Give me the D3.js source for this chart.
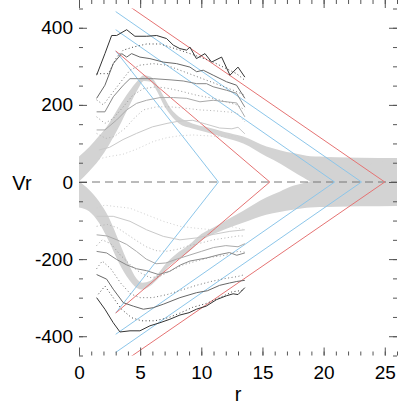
<!DOCTYPE html>
<html>
<head>
<meta charset="utf-8">
<script src="https://cdn.jsdelivr.net/npm/d3@7"></script>
<style>
  body { margin: 0; background: #fff; }
  text { font-family: "Liberation Sans", Arial, sans-serif; fill: #000; }
</style>
</head>
<body>
<div id="chart"></div>
<script>
var width = 407;
var height = 407;

// gray model bands (r, lower edge, upper edge)
var bandUpR  = [0, 0.82, 1.63, 2.45, 3.27, 4.08, 4.77, 5.31, 5.86, 6.4, 6.94, 7.49, 8.17, 9.26, 10.35, 11.9, 13.43, 15.33, 16.5, 17.5, 18.3, 18.9, 19.7, 21, 23, 26];
var bandUpHi = [66, 90, 119, 152, 195, 234, 262, 277, 273, 251, 221, 191, 169, 152, 143, 130, 118, 92, 82, 75, 70, 67, 66, 64, 63, 62];
var bandUpLo = [1, 27, 57, 96, 143, 195, 238, 262, 260, 234, 199, 174, 152, 139, 130, 115, 100, 66, 47, 27, 12, 1, -10, -25, -40, -62];

var bandLoR  = [0, 0.82, 1.63, 2.45, 3.27, 4.08, 4.7, 5.2, 5.8, 6.4, 7.1, 7.9, 9.0, 10.0, 11.0, 12.0, 13.4, 15.3, 16.4, 17.5, 18.3, 18.9, 19.7, 21, 23, 26];
var bandLoHi = [1, -20, -50, -93, -154, -214, -250, -261, -257, -240, -212, -188, -163, -135, -118, -100, -75, -40, -25, -10, -3, 1, 10, 25, 40, 62];
var bandLoLo = [-66, -76, -106, -154, -210, -253, -274, -279, -270, -253, -227, -205, -180, -152, -135, -122, -106, -85, -78, -72, -68, -66, -65, -64, -63, -62];

// chevron lines: start radius, peak |Vr| at the start, radius of the tip
var chevStart = 3;
var chevPeaks = [340, 340, 395, 442, 480];
var chevTips  = [11.4, 15.6, 20.9, 23.1, 25.0];
var chevKinds = ["blue", "red", "blue", "blue", "red"];

// measured profiles, upper half (solid s*, dotted d*)
var us1R = [1.44, 2.12, 2.67, 3.08, 3.9, 4.57, 5.53, 6.35, 7.16, 7.71, 8.25, 8.8, 9.07, 9.6, 10.3, 10.84, 11.66, 12.34, 13.0, 13.56];
var us1V = [277, 333, 380, 380, 395, 378, 378, 380, 372, 355, 346, 342, 350, 320, 333, 311, 324, 277, 298, 272];
var ud1R = [1.44, 2.4, 3.08, 3.62, 4.44, 5.53, 6.62, 7.44, 8.25, 9.07, 9.89, 10.97, 12.06, 12.88, 13.56];
var ud1V = [281, 281, 324, 342, 350, 358, 358, 350, 342, 333, 324, 311, 294, 281, 264];
var us2R = [1.44, 2.12, 2.8, 3.49, 3.9, 4.3, 4.98, 5.8, 6.89, 7.98, 9.07, 9.62, 10.16, 10.97, 12.06, 12.88, 13.56];
var us2V = [217, 251, 307, 333, 324, 333, 324, 320, 311, 307, 298, 286, 290, 277, 260, 251, 217];
var ud2R = [1.44, 1.99, 2.8, 3.62, 4.17, 4.98, 6.07, 7.16, 8.25, 9.34, 10.43, 11.52, 12.61, 13.56];
var ud2V = [213, 200, 234, 268, 290, 303, 307, 303, 290, 277, 264, 251, 238, 225];
var us3R = [1.44, 2.12, 2.8, 3.62, 4.17, 4.84, 6.07, 7.44, 8.52, 9.62, 10.43, 10.97, 12.06, 12.88, 13.56];
var us3V = [182, 182, 221, 251, 268, 268, 268, 265, 262, 255, 255, 247, 238, 230, 194];
var ud3R = [1.44, 2.12, 2.8, 3.62, 4.4, 5.26, 6.35, 7.44, 8.52, 9.62, 10.97, 12.06, 12.9, 13.56];
var ud3V = [169, 152, 165, 195, 225, 242, 247, 242, 234, 225, 217, 208, 200, 187];
var us4R = [1.44, 2.12, 3.08, 3.9, 4.71, 5.53, 6.62, 7.71, 8.8, 9.89, 10.97, 12.06, 12.9, 13.56];
var us4V = [135, 135, 161, 187, 204, 212, 219, 219, 217, 208, 212, 208, 205, 169];
var ud4R = [1.44, 2.2, 2.9, 3.8, 4.5, 5.26, 6.35, 7.44, 8.5, 9.89, 10.97, 12.06, 12.9, 13.56];
var ud4V = [126, 113, 118, 140, 165, 187, 195, 195, 192, 187, 185, 182, 180, 156];
var us5R = [1.63, 2.5, 3.6, 4.7, 6.0, 7.2, 8.2, 9.3, 10.4, 11.5, 12.5, 13.0, 13.56];
var us5V = [83, 90, 110, 126, 143, 152, 158, 160, 150, 140, 138, 142, 125];
var ud5R = [1.63, 2.45, 3.6, 4.7, 6.07, 7.2, 8.25, 9.3, 10.4, 11.5, 12.5, 13.56];
var ud5V = [60, 66, 72, 85, 105, 115, 120, 122, 120, 118, 120, 110];

// lower half
var ls1R = [1.44, 2.12, 2.8, 3.35, 4.17, 4.98, 5.8, 6.62, 7.43, 8.25, 9.0, 9.6, 10.4, 11.25, 12.06, 12.6, 13.0, 13.56];
var ls1V = [-300, -330, -365, -389, -386, -386, -373, -365, -356, -345, -339, -330, -322, -305, -295, -290, -292, -274];
var ld1R = [1.58, 2.12, 2.8, 3.48, 4.3, 5.12, 6.2, 7.3, 8.25, 9.3, 10.4, 11.5, 12.5, 13.56];
var ld1V = [-291, -270, -300, -330, -352, -360, -360, -352, -340, -325, -315, -300, -285, -280];
var ls2R = [1.44, 2.26, 2.8, 3.62, 4.44, 5.26, 6.07, 6.89, 8.25, 9.62, 10.5, 11.5, 12.3, 12.9, 13.56];
var ls2V = [-240, -252, -278, -313, -322, -330, -326, -317, -300, -287, -282, -268, -262, -258, -255];
var ld2R = [1.44, 1.9, 2.6, 3.4, 4.2, 5.0, 6.0, 7.2, 8.4, 9.6, 10.8, 12.0, 13.0, 13.56];
var ld2V = [-225, -205, -225, -262, -290, -300, -300, -292, -280, -268, -258, -250, -245, -240];
var ls3R = [1.44, 2.26, 3.08, 3.9, 4.71, 5.53, 6.5, 7.4, 8.3, 9.07, 10.43, 11.52, 12.3, 12.9, 13.56];
var ls3V = [-180, -184, -201, -215, -225, -230, -240, -232, -215, -205, -197, -188, -183, -190, -184];
var ld3R = [1.44, 1.9, 2.6, 3.4, 4.2, 5.0, 5.8, 6.6, 7.5, 8.5, 9.6, 10.8, 12.0, 13.0, 13.56];
var ld3V = [-165, -150, -160, -190, -215, -235, -248, -245, -230, -215, -205, -195, -190, -180, -182];
var ls4R = [1.44, 2.3, 3.1, 3.9, 4.7, 5.5, 6.3, 7.1, 8.0, 9.0, 10.0, 11.0, 12.0, 13.0, 13.56];
var ls4V = [-137, -140, -150, -162, -180, -200, -212, -210, -200, -190, -180, -170, -165, -168, -160];
var ld4R = [1.44, 2.3, 3.1, 3.9, 4.7, 5.5, 6.3, 7.1, 8.0, 9.0, 10.0, 11.0, 12.0, 13.0, 13.56];
var ld4V = [-115, -110, -118, -135, -152, -168, -178, -180, -175, -165, -158, -150, -145, -140, -140];
var ls5R = [1.44, 2.8, 4.17, 5.53, 6.89, 8.25, 9.62, 10.97, 12.33, 13.56];
var ls5V = [-89, -89, -102, -124, -141, -150, -145, -136, -128, -124];
var ld5R = [1.44, 2.1, 2.8, 4.17, 5.53, 6.9, 8.25, 9.6, 10.97, 12.33, 13.56];
var ld5V = [-67, -60, -63, -68, -85, -102, -115, -120, -124, -115, -124];

var xTicks = [0, 5, 10, 15, 20, 25];
var yTicks = [-400, -200, 0, 200, 400];

var svg = d3.select("#chart").append("svg")
    .attr("width", width)
    .attr("height", height);

var xScale = d3.scaleLinear().domain([0, 26]).range([79, 397]);
var yScale = d3.scaleLinear().domain([-450, 450]).range([355.5, 8.5]);

svg.append("clipPath").attr("id", "plotclip")
    .append("rect")
    .attr("x", xScale(0)).attr("y", yScale(450))
    .attr("width", xScale(26) - xScale(0))
    .attr("height", yScale(-450) - yScale(450));

var plot = svg.append("g").attr("clip-path", "url(#plotclip)");

function zipBand(rs, lo, hi) {
    return rs.map(function (r, i) { return {r: r, lo: lo[i], hi: hi[i]}; });
}

var band = d3.area()
    .x(function (d) { return xScale(d.r); })
    .y0(function (d) { return yScale(d.lo); })
    .y1(function (d) { return yScale(d.hi); })
    .curve(d3.curveMonotoneX);

[zipBand(bandUpR, bandUpLo, bandUpHi), zipBand(bandLoR, bandLoLo, bandLoHi)].forEach(function (b) {
    plot.append("path").datum(b)
        .attr("d", band)
        .attr("fill", "#d3d3d3")
        .attr("stroke", "none");
});

// zero line
plot.append("line")
    .attr("x1", xScale(0)).attr("x2", xScale(26))
    .attr("y1", yScale(0)).attr("y2", yScale(0))
    .attr("stroke", "#777")
    .attr("stroke-width", 1)
    .attr("stroke-dasharray", "8,5");

var line = d3.line()
    .x(function (d) { return xScale(d[0]); })
    .y(function (d) { return yScale(d[1]); });

var chevColor = {blue: "#8cc6ea", red: "#e57373"};
chevTips.forEach(function (tip, i) {
    var pts = [[chevStart, chevPeaks[i]], [tip, 0], [chevStart, -chevPeaks[i]]];
    plot.append("path").datum(pts)
        .attr("d", line)
        .attr("fill", "none")
        .attr("stroke", chevColor[chevKinds[i]])
        .attr("stroke-width", 1);
});

var profiles = [
    {r: us5R, v: us5V, shade: "#c9c9c9", dot: false},
    {r: ud5R, v: ud5V, shade: "#d0d0d0", dot: true},
    {r: ls5R, v: ls5V, shade: "#c9c9c9", dot: false},
    {r: ld5R, v: ld5V, shade: "#d0d0d0", dot: true},
    {r: us4R, v: us4V, shade: "#aaaaaa", dot: false},
    {r: ud4R, v: ud4V, shade: "#b4b4b4", dot: true},
    {r: ls4R, v: ls4V, shade: "#aaaaaa", dot: false},
    {r: ld4R, v: ld4V, shade: "#b4b4b4", dot: true},
    {r: us3R, v: us3V, shade: "#888888", dot: false},
    {r: ud3R, v: ud3V, shade: "#999999", dot: true},
    {r: ls3R, v: ls3V, shade: "#888888", dot: false},
    {r: ld3R, v: ld3V, shade: "#999999", dot: true},
    {r: us2R, v: us2V, shade: "#666666", dot: false},
    {r: ud2R, v: ud2V, shade: "#777777", dot: true},
    {r: ls2R, v: ls2V, shade: "#666666", dot: false},
    {r: ld2R, v: ld2V, shade: "#777777", dot: true},
    {r: us1R, v: us1V, shade: "#333333", dot: false},
    {r: ud1R, v: ud1V, shade: "#444444", dot: true},
    {r: ls1R, v: ls1V, shade: "#333333", dot: false},
    {r: ld1R, v: ld1V, shade: "#444444", dot: true}
];

profiles.forEach(function (p) {
    var pts = p.r.map(function (r, i) { return [r, p.v[i]]; });
    plot.append("path").datum(pts)
        .attr("d", line)
        .attr("fill", "none")
        .attr("stroke", p.shade)
        .attr("stroke-width", 1)
        .attr("stroke-dasharray", p.dot ? "1,2.5" : null);
});

// axes, ticks pointing inward on all four sides
var majorLen = 8, minorLen = 4;
var bottom = yScale(-450), top = yScale(450), left = xScale(0), right = xScale(26);
var plainNum = function (d) { return String(d); };

function styleAxis(g) {
    g.select(".domain").remove();
    g.selectAll(".tick line").attr("stroke", "#555");
    g.selectAll("text")
        .style("font-family", "'Liberation Sans', Arial, sans-serif")
        .style("font-size", "19px")
        .attr("fill", "#000");
}

svg.append("g").attr("transform", "translate(0," + bottom + ")")
    .call(d3.axisBottom(xScale).tickValues(d3.range(0, 27, 1)).tickSize(-minorLen).tickFormat(""))
    .call(styleAxis);
svg.append("g").attr("transform", "translate(0," + bottom + ")")
    .call(d3.axisBottom(xScale).tickValues(xTicks).tickSize(-majorLen).tickPadding(10).tickFormat(plainNum))
    .call(styleAxis);
svg.append("g").attr("transform", "translate(0," + top + ")")
    .call(d3.axisTop(xScale).tickValues(d3.range(0, 27, 1)).tickSize(-minorLen).tickFormat(""))
    .call(styleAxis);
svg.append("g").attr("transform", "translate(0," + top + ")")
    .call(d3.axisTop(xScale).tickValues(xTicks).tickSize(-majorLen).tickFormat(""))
    .call(styleAxis);

svg.append("g").attr("transform", "translate(" + left + ",0)")
    .call(d3.axisLeft(yScale).tickValues(d3.range(-450, 451, 50)).tickSize(-minorLen).tickFormat(""))
    .call(styleAxis);
svg.append("g").attr("transform", "translate(" + left + ",0)")
    .call(d3.axisLeft(yScale).tickValues(yTicks).tickSize(-majorLen).tickPadding(6).tickFormat(plainNum))
    .call(styleAxis);
svg.append("g").attr("transform", "translate(" + right + ",0)")
    .call(d3.axisRight(yScale).tickValues(d3.range(-450, 451, 50)).tickSize(-minorLen).tickFormat(""))
    .call(styleAxis);
svg.append("g").attr("transform", "translate(" + right + ",0)")
    .call(d3.axisRight(yScale).tickValues(yTicks).tickSize(-majorLen).tickFormat(""))
    .call(styleAxis);

svg.append("rect")
    .attr("x", left).attr("y", top)
    .attr("width", right - left).attr("height", bottom - top)
    .attr("fill", "none")
    .attr("stroke", "#555")
    .attr("stroke-width", 1);

svg.append("text")
    .attr("x", (left + right) / 2).attr("y", 401)
    .attr("text-anchor", "middle")
    .style("font-size", "20px")
    .text("r");

svg.append("text")
    .attr("x", 22).attr("y", 190)
    .attr("text-anchor", "middle")
    .style("font-size", "20px")
    .text("Vr");
</script>
</body>
</html>
